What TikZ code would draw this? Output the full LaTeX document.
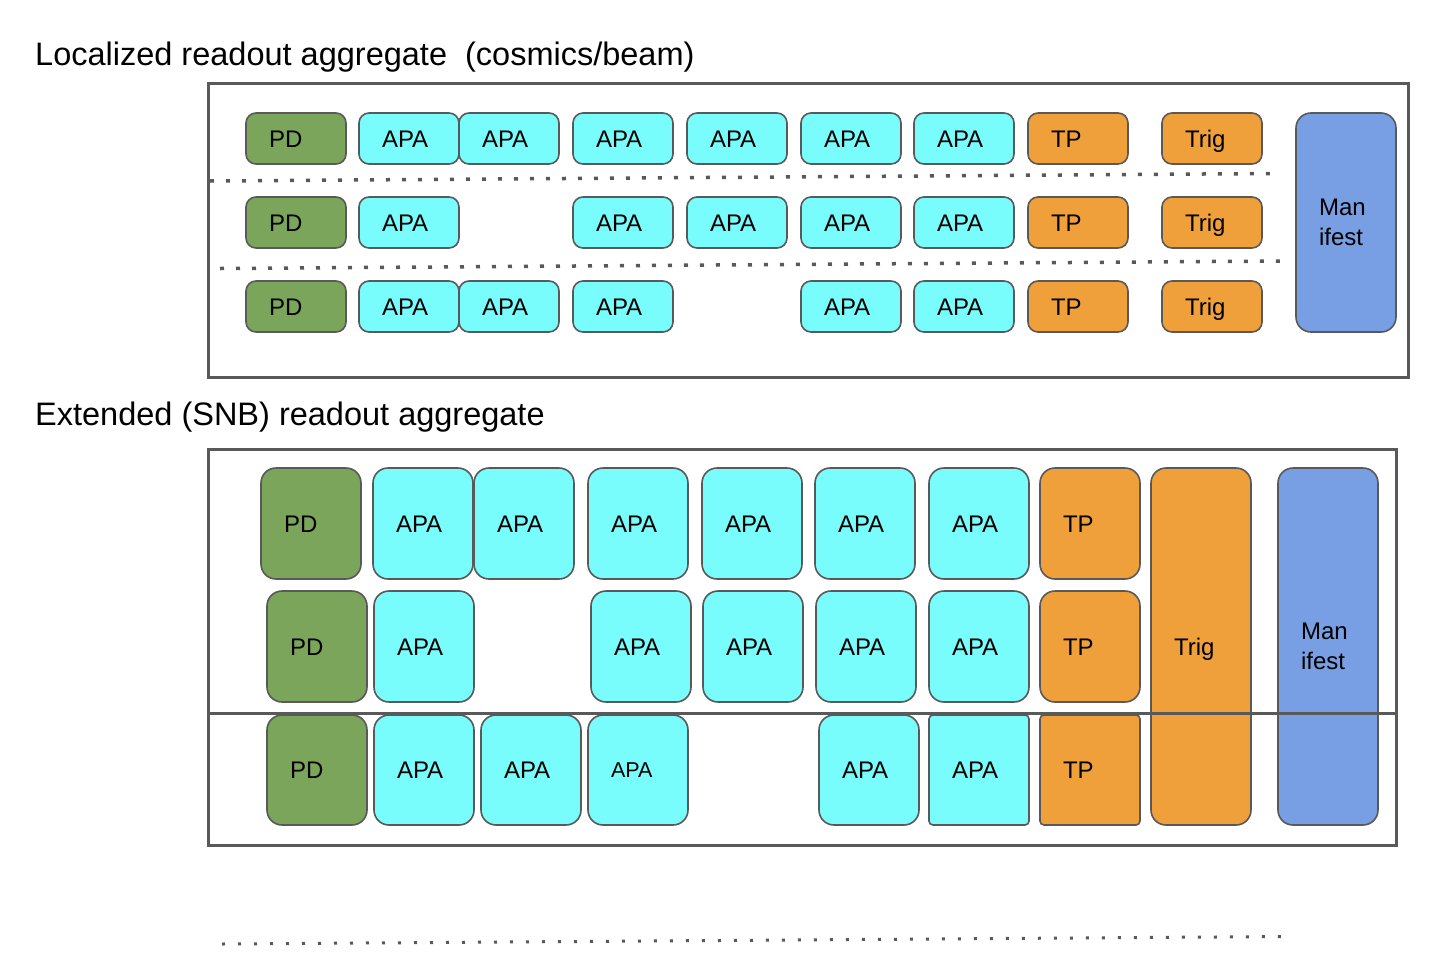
\documentclass[tikz,border=0pt]{standalone}
\usepackage{fontspec}
\setmainfont{Liberation Sans}
\usepackage{xcolor}
\definecolor{edge}{HTML}{595959}
\definecolor{pdgreen}{HTML}{7AA55B}
\definecolor{apacyan}{HTML}{78FCFC}
\definecolor{tporange}{HTML}{F0A03A}
\definecolor{manblue}{HTML}{789FE3}
\usepackage{tikz}
\usetikzlibrary{positioning}
\tikzset{
    cell/.style={draw=edge, line width=1.6pt, align=left, inner xsep=23pt, inner ysep=0pt, text width=54pt, minimum width=100pt, font=\fontsize{24}{30}\selectfont},
    oneline/.style={text height=17.5pt, text depth=0pt},
    slim/.style={cell, rounded corners=10pt, minimum height=51pt},
    tall/.style={cell, rounded corners=15pt, minimum height=111pt},
    pd/.style={fill=pdgreen, oneline},
    apa/.style={fill=apacyan, oneline},
    tp/.style={fill=tporange, oneline},
    man/.style={fill=manblue},
    frame/.style={draw=edge, line width=3pt},
    sep/.style={draw=edge, line width=3.5pt, dash pattern=on 4pt off 12pt},
    title/.style={anchor=west, inner sep=0pt, font=\fontsize{32.5}{38}\selectfont}
}

\begin{document}
\begin{tikzpicture}[x=1pt, y=-1pt]
  \useasboundingbox (0,0) rectangle (1452,972);

  % Titles
  \node[title] (ttop) at (35,57) {Localized readout aggregate \ (cosmics/beam)};
  \node[title] (tbot) at (35,417) {Extended (SNB) readout aggregate};

  % Localized aggregate: frame
  \draw[frame] (208,83) rectangle (1408,377);

  % Localized aggregate: row 1
  \node[slim, pd]  (la1pd) at (296,138.5) {PD};
  \node[slim, apa] (la1a) at (409,138.5) {APA};
  \node[slim, apa] (la1b) at (509,138.5) {APA};
  \node[slim, apa] (la1c) at (623,138.5) {APA};
  \node[slim, apa] (la1d) at (737,138.5) {APA};
  \node[slim, apa] (la1e) at (851,138.5) {APA};
  \node[slim, apa] (la1f) at (964,138.5) {APA};
  \node[slim, tp]  (la1tp) at (1078,138.5) {TP};
  \node[slim, tp]  (la1trig) at (1212,138.5) {Trig};

  % Localized aggregate: row 2
  \node[slim, pd]  (la2pd) at (296,222.5) {PD};
  \node[slim, apa] (la2a) at (409,222.5) {APA};
  \node[slim, apa] (la2c) at (623,222.5) {APA};
  \node[slim, apa] (la2d) at (737,222.5) {APA};
  \node[slim, apa] (la2e) at (851,222.5) {APA};
  \node[slim, apa] (la2f) at (964,222.5) {APA};
  \node[slim, tp]  (la2tp) at (1078,222.5) {TP};
  \node[slim, tp]  (la2trig) at (1212,222.5) {Trig};

  % Localized aggregate: row 3
  \node[slim, pd]  (la3pd) at (296,306.5) {PD};
  \node[slim, apa] (la3a) at (409,306.5) {APA};
  \node[slim, apa] (la3b) at (509,306.5) {APA};
  \node[slim, apa] (la3c) at (623,306.5) {APA};
  \node[slim, apa] (la3e) at (851,306.5) {APA};
  \node[slim, apa] (la3f) at (964,306.5) {APA};
  \node[slim, tp]  (la3tp) at (1078,306.5) {TP};
  \node[slim, tp]  (la3trig) at (1212,306.5) {Trig};

  \node[slim, man, minimum height=219pt, rounded corners=15pt] (laman) at (1346,222.5) {Man\\ifest};

  % Localized aggregate: row separators
  \coordinate (s1l) at (210,181);
  \coordinate (s1r) at (1274,173.5);
  \coordinate (s2l) at (220,268.5);
  \coordinate (s2r) at (1283,261);
  \draw[sep] (s1l) -- (s1r);
  \draw[sep] (s2l) -- (s2r);

  % Extended aggregate: row 1
  \node[tall, pd]  (ex1pd) at (311,523.5) {PD};
  \node[tall, apa] (ex1a) at (423,523.5) {APA};
  \node[tall, apa] (ex1b) at (524,523.5) {APA};
  \node[tall, apa] (ex1c) at (638,523.5) {APA};
  \node[tall, apa] (ex1d) at (752,523.5) {APA};
  \node[tall, apa] (ex1e) at (865,523.5) {APA};
  \node[tall, apa] (ex1f) at (979,523.5) {APA};
  \node[tall, tp]  (ex1tp) at (1090,523.5) {TP};

  % Extended aggregate: row 2
  \node[tall, pd]  (ex2pd) at (317,646.5) {PD};
  \node[tall, apa] (ex2a) at (424,646.5) {APA};
  \node[tall, apa] (ex2c) at (641,646.5) {APA};
  \node[tall, apa] (ex2d) at (753,646.5) {APA};
  \node[tall, apa] (ex2e) at (866,646.5) {APA};
  \node[tall, apa] (ex2f) at (979,646.5) {APA};
  \node[tall, tp]  (ex2tp) at (1090,646.5) {TP};

  % Extended aggregate: row 3
  \node[tall, pd, minimum height=110pt]  (ex3pd) at (317,770) {PD};
  \node[tall, apa, minimum height=110pt] (ex3a) at (424,770) {APA};
  \node[tall, apa, minimum height=110pt] (ex3b) at (531,770) {APA};
  \node[tall, apa, minimum height=110pt, font=\fontsize{21.5}{26}\selectfont, text height=15.5pt] (ex3c) at (638,770) {APA};
  \node[tall, apa, minimum height=110pt] (ex3e) at (869,770) {APA};
  \node[tall, apa, minimum height=110pt, rounded corners=4pt] (ex3f) at (979,770) {APA};
  \node[tall, tp, minimum height=110pt, rounded corners=4pt, inner xsep=21pt] (ex3tp) at (1090,770) {TP};

  % Extended aggregate: shared trigger and manifest
  \node[tall, tp, minimum height=357pt] (extrig) at (1201,646.5) {Trig};
  \node[tall, man, minimum height=357pt] (exman) at (1328,646.5) {Man\\ifest};

  % Extended aggregate: frame and divider
  \draw[frame] (208,449) rectangle (1396,845);
  \coordinate (dvl) at (208,713);
  \coordinate (dvr) at (1396,713);
  \draw[frame] (dvl) -- (dvr);

  % Trailing separator
  \coordinate (s3l) at (222,944);
  \coordinate (s3r) at (1286,936.5);
  \draw[sep, line width=3pt, dash pattern=on 3pt off 13pt] (s3l) -- (s3r);
\end{tikzpicture}
\end{document}
